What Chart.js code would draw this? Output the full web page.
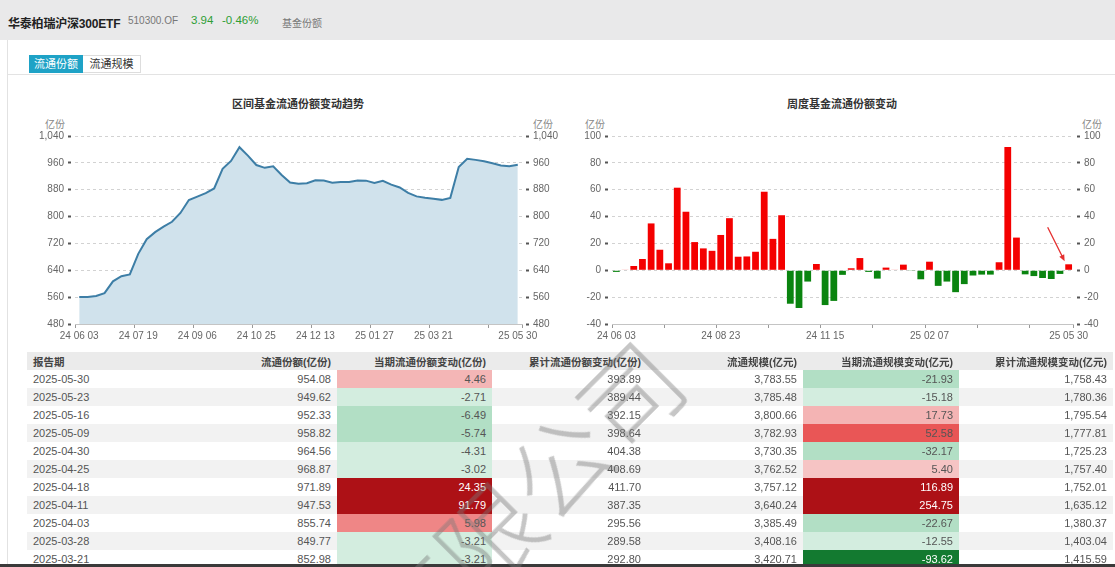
<!DOCTYPE html>
<html>
<head>
<meta charset="utf-8">
<script src="https://cdn.jsdelivr.net/npm/chart.js@4.4.1/dist/chart.umd.min.js"></script>
<style>
  body { margin: 0; width: 1115px; height: 567px; overflow: hidden; background: #fff;
         font-family: "Liberation Sans", "Noto Sans CJK SC", sans-serif; position: relative; }
  .abs { position: absolute; white-space: nowrap; }
  .topbar { left: 0; top: 0; width: 1115px; height: 40px; background: #e9e9ea; }
  .tab { top: 55px; height: 18px; line-height: 18px; font-size: 11px; text-align: center; box-sizing: border-box; }
  .ctitle { top: 95px; font-size: 11px; font-weight: bold; color: #333; transform: translateX(-50%); }
  .unit { top: 116px; font-size: 10px; color: #888; }
  canvas { position: absolute; }
  table { position: absolute; left: 27px; top: 352px; width: 1086px; border-collapse: collapse; table-layout: fixed; }
  td, th { height: 18px; padding: 0 6px; font-size: 11px; color: #555; text-align: right; overflow: hidden; white-space: nowrap; }
  th { font-size: 10.5px; font-weight: bold; color: #444; background: #ebebeb; }
  tr:nth-child(odd) td { background: #f2f2f2; }
  td:first-child, th:first-child { text-align: left; }
  .mark { left: 380px; top: 590px; font-size: 100px; line-height: 100px; font-weight: 300;
          font-family: "Noto Sans CJK SC", sans-serif; color: rgba(120,120,120,0.42);
          transform-origin: 0 50%; transform: rotate(-45deg); pointer-events: none; }
</style>
</head>
<body>
<div class="abs topbar"></div>
<div class="abs" style="left:8px;top:14px;font-size:12px;font-weight:bold;color:#222;letter-spacing:-0.2px;">华泰柏瑞沪深300ETF</div>
<div class="abs" style="left:128px;top:15px;font-size:10px;color:#777;">510300.OF</div>
<div class="abs" style="left:191px;top:14px;font-size:11.5px;color:#2e9e35;">3.94</div>
<div class="abs" style="left:222px;top:14px;font-size:11.5px;color:#2e9e35;">-0.46%</div>
<div class="abs" style="left:282px;top:15px;font-size:10px;color:#777;">基金份额</div>
<div class="abs" style="left:7px;top:40px;width:1px;height:524px;background:#e2e2e2;"></div>

<div class="abs tab" style="left:29px;width:54px;background:#1ea2c6;color:#fff;">流通份额</div>
<div class="abs tab" style="left:83px;width:58px;border:1px solid #ddd;border-left:none;color:#333;line-height:16px;">流通规模</div>
<div class="abs" style="left:8px;top:74px;width:1107px;height:1px;background:#e3e3e3;"></div>

<div class="abs ctitle" style="left:298px;">区间基金流通份额变动趋势</div>
<div class="abs ctitle" style="left:842px;">周度基金流通份额变动</div>
<div class="abs unit" style="left:45px;">亿份</div>
<div class="abs unit" style="left:533px;">亿份</div>
<div class="abs unit" style="left:585px;">亿份</div>
<div class="abs unit" style="left:1082px;">亿份</div>

<canvas id="shareChart" width="560" height="240" style="left:0;top:110px;width:560px;height:240px;"></canvas>
<canvas id="changeChart" width="560" height="240" style="left:555px;top:110px;width:560px;height:240px;"></canvas>

<table id="tbl"></table>
<div class="abs" style="left:0;top:564px;width:1115px;height:3px;background:#3a3a3a;"></div>
<div class="abs mark">有限公司</div>

<script>
// weekly report dates (last trading day of each week)
const weekDates = ['2024-06-03','2024-06-07','2024-06-14','2024-06-21','2024-06-28','2024-07-05','2024-07-12',
  '2024-07-19','2024-07-26','2024-08-02','2024-08-09','2024-08-16','2024-08-23','2024-08-30',
  '2024-09-06','2024-09-13','2024-09-20','2024-09-27','2024-09-30','2024-10-11','2024-10-18',
  '2024-10-25','2024-11-01','2024-11-08','2024-11-15','2024-11-22','2024-11-29','2024-12-06',
  '2024-12-13','2024-12-20','2024-12-27','2025-01-03','2025-01-10','2025-01-17','2025-01-24',
  '2025-01-27','2025-02-07','2025-02-14','2025-02-21','2025-02-28','2025-03-07','2025-03-14',
  '2025-03-21','2025-03-28','2025-04-03','2025-04-11','2025-04-18','2025-04-25','2025-04-30',
  '2025-05-09','2025-05-16','2025-05-23','2025-05-30'];

// circulating shares (亿份)
const weekShares = [560.18, 560.48, 563.68, 572.08, 606.98, 622.28, 627.48,
  688.98, 732.58, 753.58, 769.88, 784.38, 810.68, 849.48,
  859.58, 869.88, 883.68, 942.18, 965.58, 1006.58, 981.68,
  953.58, 945.18, 949.88, 923.98, 901.18, 897.78, 899.28,
  908.38, 907.18, 900.98, 902.98, 903.28, 907.48, 906.98,
  900.28, 906.68, 895.08, 886.68, 870.38, 860.08, 856.19,
  852.98, 849.77, 855.74, 947.53, 971.89, 968.87, 964.56,
  958.82, 952.33, 949.62, 954.08];

// weekly change in shares (亿份)
const weekChanges = [-1.20, 0.30, 3.20, 8.40, 34.90, 15.30, 5.20,
  61.50, 43.60, 21.00, 16.30, 14.50, 26.30, 38.80,
  10.10, 10.30, 13.80, 58.50, 23.40, 41.00, -24.90,
  -28.10, -8.40, 4.70, -25.90, -22.80, -3.40, 1.50,
  9.10, -1.20, -6.20, 2.00, 0.30, 4.20, -0.50,
  -6.70, 6.40, -11.60, -8.40, -16.30, -10.30, -3.89,
  -3.21, -3.21, 5.98, 91.79, 24.35, -3.02, -4.31,
  -5.74, -6.49, -2.71, 4.46];

// table data
const tableHeaders = ['报告期', '流通份额(亿份)', '当期流通份额变动(亿份)', '累计流通份额变动(亿份)',
  '流通规模(亿元)', '当期流通规模变动(亿元)', '累计流通规模变动(亿元)'];
const tableDates = ['2025-05-30','2025-05-23','2025-05-16','2025-05-09','2025-04-30','2025-04-25',
  '2025-04-18','2025-04-11','2025-04-03','2025-03-28','2025-03-21'];
const tableShare = [954.08, 949.62, 952.33, 958.82, 964.56, 968.87, 971.89, 947.53, 855.74, 849.77, 852.98];
const tableShareChg = [4.46, -2.71, -6.49, -5.74, -4.31, -3.02, 24.35, 91.79, 5.98, -3.21, -3.21];
const tableCumShare = [393.89, 389.44, 392.15, 398.64, 404.38, 408.69, 411.70, 387.35, 295.56, 289.58, 292.80];
const tableScale = [3783.55, 3785.48, 3800.66, 3782.93, 3730.35, 3762.52, 3757.12, 3640.24, 3385.49, 3408.16, 3420.71];
const tableScaleChg = [-21.93, -15.18, 17.73, 52.58, -32.17, 5.40, 116.89, 254.75, -22.67, -12.55, -93.62];
const tableCumScale = [1758.43, 1780.36, 1795.54, 1777.81, 1725.23, 1757.40, 1752.01, 1635.12, 1380.37, 1403.04, 1415.59];

const shareMin = 480, shareMax = 1040, shareStep = 80;
const chgMin = -40, chgMax = 100, chgStep = 20;

Chart.defaults.font.family = '"Liberation Sans", "Noto Sans CJK SC", sans-serif';
Chart.defaults.font.size = 10;
Chart.defaults.color = '#666';

const shortDate = d => d.slice(2).replace(/-/g, ' ');
const last = weekDates.length - 1;

// y axis with small square tick marks a few px off the plot
function yAxis(pos, min, max, step, width) {
  const left = pos === 'left';
  return {
    position: pos, min: min, max: max,
    ticks: { stepSize: step, padding: 4 },
    grid: {
      drawOnChartArea: left, color: '#d2d2d2',
      tickLength: 7, tickWidth: 2, tickColor: '#555',
      tickBorderDash: [3, 20], tickBorderDashOffset: left ? 0 : 19
    },
    border: { display: false, dash: [3, 3] },
    afterFit: s => { s.width = width; }
  };
}

// tick mark every `tickEvery` weeks, a label every `labelEvery` weeks plus the last week
function xAxis(tickEvery, labelEvery) {
  return {
    offset: true,
    grid: {
      offset: true, drawOnChartArea: false, tickLength: 4,
      tickColor: c => (c.index === undefined || c.index % tickEvery === 0) ? '#999' : 'rgba(0,0,0,0)'
    },
    border: { display: true, color: '#c4c4c4' },
    ticks: {
      autoSkip: false, maxRotation: 0, padding: 2,
      callback: function(v, i) {
        if (i === last || (i % labelEvery === 0 && last - i >= labelEvery / 2)) return shortDate(weekDates[i]);
        return '';
      }
    },
    afterFit: s => { s.height = 20; }
  };
}

new Chart(document.getElementById('shareChart'), {
  type: 'line',
  data: {
    labels: weekDates,
    datasets: [{
      data: weekShares,
      borderColor: '#3d7ea6',
      borderWidth: 2,
      backgroundColor: '#d0e2ec',
      fill: 'start',
      pointRadius: 0,
      tension: 0
    }]
  },
  options: {
    responsive: false,
    animation: false,
    layout: { padding: { top: 26, bottom: 6, left: 0, right: 0 } },
    plugins: { legend: { display: false }, tooltip: { enabled: false } },
    scales: {
      x: xAxis(7, 7),
      y: yAxis('left', shareMin, shareMax, shareStep, 75),
      y2: yAxis('right', shareMin, shareMax, shareStep, 38)
    }
  }
});

// red arrow pointing at the latest bar
const arrowPlugin = {
  id: 'lastArrow',
  afterDatasetsDraw(chart) {
    const bar = chart.getDatasetMeta(0).data[last];
    const ctx = chart.ctx;
    const tx = bar.x - 4, ty = bar.y - 3;
    const sx = bar.x - 21, sy = bar.y - 37;
    const ang = Math.atan2(ty - sy, tx - sx);
    ctx.save();
    ctx.strokeStyle = '#e53030';
    ctx.fillStyle = '#e53030';
    ctx.lineWidth = 1.3;
    ctx.beginPath();
    ctx.moveTo(sx, sy);
    ctx.lineTo(tx - 5 * Math.cos(ang), ty - 5 * Math.sin(ang));
    ctx.stroke();
    ctx.beginPath();
    ctx.moveTo(tx, ty);
    ctx.lineTo(tx - 7 * Math.cos(ang - 0.4), ty - 7 * Math.sin(ang - 0.4));
    ctx.lineTo(tx - 7 * Math.cos(ang + 0.4), ty - 7 * Math.sin(ang + 0.4));
    ctx.closePath();
    ctx.fill();
    ctx.restore();
  }
};

new Chart(document.getElementById('changeChart'), {
  type: 'bar',
  data: {
    labels: weekDates,
    datasets: [{
      data: weekChanges,
      backgroundColor: c => c.raw >= 0 ? '#f40000' : '#0a840f',
      barPercentage: 0.78,
      categoryPercentage: 1.0
    }]
  },
  options: {
    responsive: false,
    animation: false,
    layout: { padding: { top: 26, bottom: 6, left: 0, right: 0 } },
    plugins: { legend: { display: false }, tooltip: { enabled: false } },
    scales: {
      x: xAxis(6, 12),
      y: yAxis('left', chgMin, chgMax, chgStep, 57),
      y2: yAxis('right', chgMin, chgMax, chgStep, 42)
    }
  },
  plugins: [arrowPlugin]
});

// table
const fmt = v => v.toLocaleString('en-US', { minimumFractionDigits: 2, maximumFractionDigits: 2 });

function shareChgColor(v) {
  if (v > 20) return ['#ad1116', '#fff'];
  if (v > 5) return ['#ef8686', '#555'];
  if (v > 0) return ['#f4b6b6', '#555'];
  if (v < -5) return ['#b2dfc5', '#555'];
  return ['#d3eddf', '#555'];
}
function scaleChgColor(v) {
  if (v > 100) return ['#ad1116', '#fff'];
  if (v > 30) return ['#e95656', '#555'];
  if (v > 10) return ['#f4b4b4', '#555'];
  if (v > 0) return ['#f6c4c4', '#555'];
  if (v < -50) return ['#137a30', '#fff'];
  if (v < -20) return ['#b2dfc5', '#555'];
  return ['#d3eddf', '#555'];
}

const colWidths = [153, 157, 155, 155, 156, 156, 154];
const tbl = document.getElementById('tbl');
let html = '<colgroup>' + colWidths.map(w => '<col style="width:' + w + 'px">').join('') + '</colgroup>';
html += '<tr>' + tableHeaders.map(h => '<th>' + h + '</th>').join('') + '</tr>';
tableDates.forEach((d, i) => {
  const a = shareChgColor(tableShareChg[i]);
  const b = scaleChgColor(tableScaleChg[i]);
  html += '<tr>' +
    '<td>' + d + '</td>' +
    '<td>' + fmt(tableShare[i]) + '</td>' +
    '<td style="background:' + a[0] + ';color:' + a[1] + '">' + fmt(tableShareChg[i]) + '</td>' +
    '<td>' + fmt(tableCumShare[i]) + '</td>' +
    '<td>' + fmt(tableScale[i]) + '</td>' +
    '<td style="background:' + b[0] + ';color:' + b[1] + '">' + fmt(tableScaleChg[i]) + '</td>' +
    '<td>' + fmt(tableCumScale[i]) + '</td>' +
    '</tr>';
});
tbl.innerHTML = html;
</script>
</body>
</html>
